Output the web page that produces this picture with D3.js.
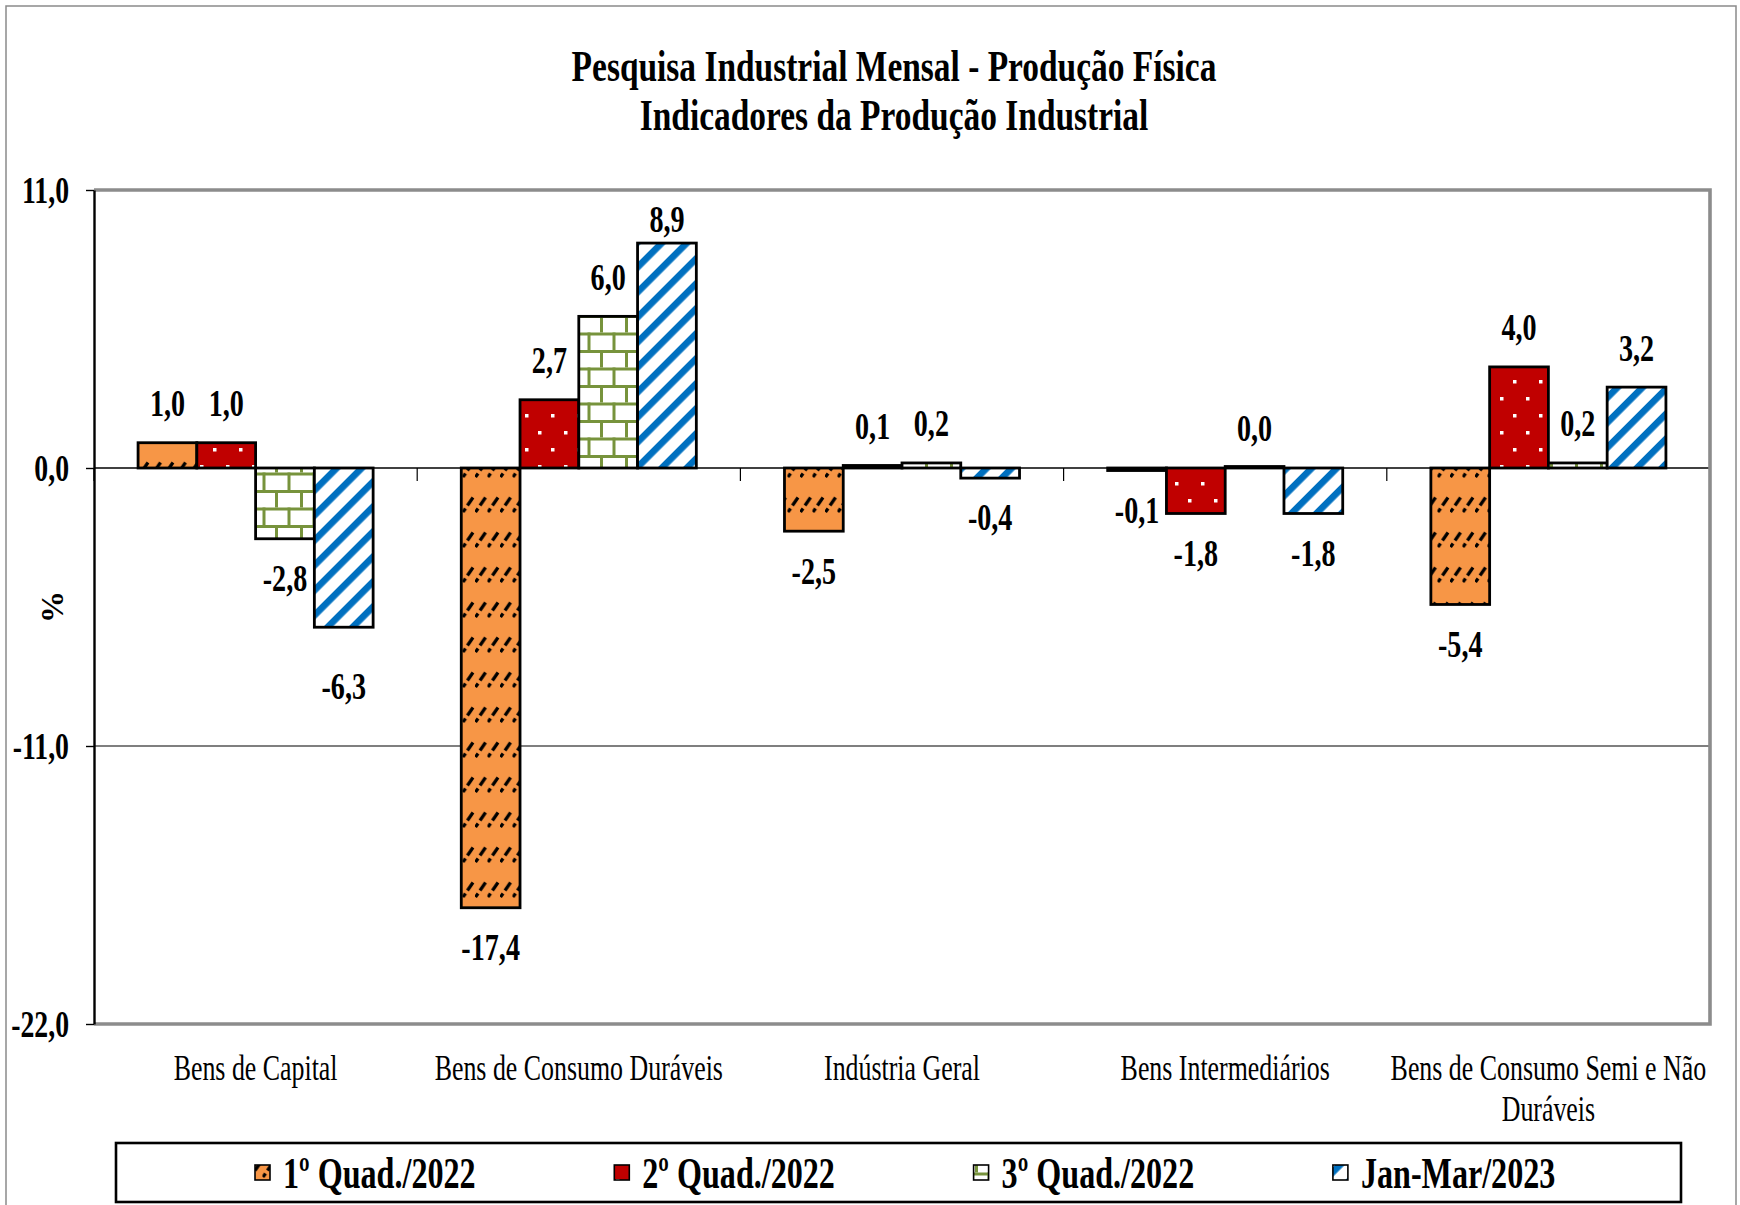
<!DOCTYPE html>
<html>
<head>
<meta charset="utf-8">
<script src="https://cdn.jsdelivr.net/npm/d3@7"></script>
<style>
  html, body { margin: 0; padding: 0; background: #ffffff; }
  svg { display: block; }
</style>
</head>
<body>
<svg id="chart" width="1740" height="1205"></svg>
<script>
// ---------------- DATA ----------------
const titleLines = ["Pesquisa Industrial Mensal - Produção Física", "Indicadores da Produção Industrial"];
const yAxisTitle = "%";
const categories = ["Bens de Capital", "Bens de Consumo Duráveis", "Indústria Geral", "Bens Intermediários", "Bens de Consumo Semi e Não Duráveis"];
const seriesNames = ["1º Quad./2022", "2º Quad./2022", "3º Quad./2022", "Jan-Mar/2023"];
const quad1_2022 = [1.0, -17.4, -2.5, -0.1, -5.4];
const quad2_2022 = [1.0, 2.7, 0.1, -1.8, 4.0];
const quad3_2022 = [-2.8, 6.0, 0.2, 0.0, 0.2];
const janMar2023 = [-6.3, 8.9, -0.4, -1.8, 3.2];
const yTicks = [11, 0, -11, -22];
const yDomain = [-22, 11];

// ---------------- LAYOUT / STYLE ----------------
const seriesValues = [quad1_2022, quad2_2022, quad3_2022, janMar2023];
const FONT = "'Liberation Serif','Times New Roman',serif";
const plot = { left: 94, right: 1710, top: 190, bottom: 1024 };
// manually moved data label in the original (extra distance, px)
const labelNudge = { "Jan-Mar/2023|Bens de Capital": 19 };

const locale = d3.formatLocale({ decimal: ",", thousands: ".", grouping: [3], currency: ["", ""], minus: "-" });
const fmt = locale.format(".1f");

const svg = d3.select("#chart");
const defs = svg.append("defs");

// patterns
const pat0 = defs.append("pattern").attr("id", "pat0").attr("patternUnits", "userSpaceOnUse")
  .attr("width", 12.5).attr("height", 35);
pat0.append("rect").attr("width", 12.5).attr("height", 35).attr("fill", "#F79646");
pat0.append("path").attr("d", "M0.5,22 L3,18.5 M5,15.5 L10.5,7.5").attr("stroke", "#000").attr("stroke-width", 3.2).attr("fill", "none");

const pat1 = defs.append("pattern").attr("id", "pat1").attr("patternUnits", "userSpaceOnUse")
  .attr("width", 26).attr("height", 34);
pat1.append("rect").attr("width", 26).attr("height", 34).attr("fill", "#C00000");
pat1.append("rect").attr("x", 5).attr("y", 6).attr("width", 3.5).attr("height", 3.5).attr("fill", "#fff");
pat1.append("rect").attr("x", 18).attr("y", 23).attr("width", 3.5).attr("height", 3.5).attr("fill", "#fff");

const pat2 = defs.append("pattern").attr("id", "pat2").attr("patternUnits", "userSpaceOnUse")
  .attr("width", 25).attr("height", 35);
pat2.append("rect").attr("width", 25).attr("height", 35).attr("fill", "#fff");
pat2.append("rect").attr("x", 0).attr("y", 0).attr("width", 25).attr("height", 3).attr("fill", "#77933C");
pat2.append("rect").attr("x", 0).attr("y", 17.5).attr("width", 25).attr("height", 3).attr("fill", "#77933C");
pat2.append("rect").attr("x", 0).attr("y", 0).attr("width", 3).attr("height", 17.5).attr("fill", "#77933C");
pat2.append("rect").attr("x", 12.5).attr("y", 17.5).attr("width", 3).attr("height", 17.5).attr("fill", "#77933C");

const pat3 = defs.append("pattern").attr("id", "pat3").attr("patternUnits", "userSpaceOnUse")
  .attr("width", 17.68).attr("height", 17.68).attr("patternTransform", "rotate(45)");
pat3.append("rect").attr("width", 17.68).attr("height", 17.68).attr("fill", "#fff");
pat3.append("rect").attr("x", 0).attr("width", 6.6).attr("height", 17.68).attr("fill", "#0070C0");

const patIds = ["url(#pat0)", "url(#pat1)", "url(#pat2)", "url(#pat3)"];

// outer chart frame
svg.append("rect").attr("x", 6).attr("y", 6).attr("width", 1730).attr("height", 1220)
  .attr("fill", "#fff").attr("stroke", "#8a8a8a").attr("stroke-width", 1.5);

// helper: condensed text
function ctext(parent, x, yv, str, opts) {
  const g = parent.append("g").attr("transform", `translate(${x},${yv})`);
  const t = g.append("text")
    .attr("transform", `scale(${opts.sx},1)`)
    .attr("text-anchor", opts.anchor || "middle")
    .attr("dominant-baseline", opts.baseline || "central")
    .attr("font-family", FONT)
    .attr("font-size", opts.size)
    .attr("font-weight", opts.weight || "normal")
    .attr("fill", "#000")
    .text(str);
  return t;
}

// title
titleLines.forEach((line, i) => {
  ctext(svg, 894, 81 + i * 49, line, { size: 44, sx: 0.76, weight: "bold", baseline: "alphabetic" });
});

// scales
const x0 = d3.scaleBand().domain(categories).range([plot.left, plot.right]).padding(0);
const x1 = d3.scaleBand().domain(seriesNames).range([0, x0.bandwidth()]).paddingInner(0).paddingOuter(0.75);
const y = d3.scaleLinear().domain(yDomain).range([plot.bottom, plot.top]);

// gridlines (inner ticks, thin black)
svg.append("g").selectAll("line").data(yTicks.filter(v => v !== yDomain[0] && v !== yDomain[1]))
  .join("line")
  .attr("x1", plot.left).attr("x2", plot.right)
  .attr("y1", d => y(d)).attr("y2", d => y(d))
  .attr("stroke", "#000").attr("stroke-width", d => d === 0 ? 1.6 : 1.2);

// category tick marks on zero line at band boundaries
const boundaries = categories.map(c => x0(c)).concat([x0.range()[1]]);
svg.append("g").selectAll("line").data(boundaries).join("line")
  .attr("x1", d => d).attr("x2", d => d)
  .attr("y1", y(0)).attr("y2", y(0) + 13)
  .attr("stroke", "#000").attr("stroke-width", 1.2);

// plot border (gray) top/right/bottom
svg.append("path")
  .attr("d", `M${plot.left},${y(yDomain[1])} H${plot.right} V${y(yDomain[0])} H${plot.left}`)
  .attr("fill", "none").attr("stroke", "#8c8c8c").attr("stroke-width", 3.6);

// bars
const rows = [];
categories.forEach((c, i) => {
  seriesNames.forEach((s, j) => rows.push({ c, s, j, v: seriesValues[j][i] }));
});

const barG = svg.append("g");
barG.selectAll("rect").data(rows).join("rect")
  .attr("x", d => x0(d.c) + x1(d.s))
  .attr("width", x1.bandwidth())
  .attr("y", d => d.v > 0 ? y(d.v) : (d.v === 0 ? y(0) - 1.5 : y(0)))
  .attr("height", d => d.v === 0 ? 1.5 : Math.abs(y(d.v) - y(0)))
  .attr("fill", d => patIds[d.j])
  .attr("stroke", "#000").attr("stroke-width", 2.8);

// data labels (outside end, kept inside the plot area)
const labG = svg.append("g");
rows.forEach(d => {
  const cx = x0(d.c) + x1(d.s) + x1.bandwidth() / 2;
  const nudge = labelNudge[d.s + "|" + d.c] || 0;
  let cy = d.v >= 0 ? y(d.v) - 39 : y(d.v) + 40 + nudge;
  cy = Math.max(cy, plot.top + 30);
  ctext(labG, cx, cy, fmt(d.v), { size: 37, sx: 0.76, weight: "bold" });
});

// y axis
const yAxis = d3.axisLeft(y).tickValues(yTicks).tickSize(8).tickSizeOuter(0).tickFormat(fmt);
const yG = svg.append("g").attr("transform", `translate(${plot.left},0)`).call(yAxis);
yG.select(".domain").attr("stroke", "#000").attr("stroke-width", 2.4);
yG.selectAll(".tick line").attr("stroke", "#000").attr("stroke-width", 1.4);
yG.selectAll(".tick text")
  .attr("x", 0).attr("dy", null)
  .attr("dominant-baseline", "central")
  .attr("text-anchor", "end")
  .attr("transform", "translate(-25,0) scale(0.75,1)")
  .attr("font-family", FONT).attr("font-size", 37).attr("font-weight", "bold").attr("fill", "#000");

// y axis title
svg.append("g").attr("transform", `translate(52,${(plot.top + plot.bottom) / 2}) rotate(-90)`)
  .append("text").attr("text-anchor", "middle").attr("dominant-baseline", "central")
  .attr("font-family", FONT).attr("font-size", 32).attr("font-weight", "bold").text(yAxisTitle);

// category labels with wrapping
const CAT_SIZE = 35, CAT_SX = 0.74;
const catG = svg.append("g");
categories.forEach(c => {
  const cx = x0(c) + x0.bandwidth() / 2;
  const words = c.split(" ");
  const lines = [];
  let cur = [];
  const probe = svg.append("text").attr("font-family", FONT).attr("font-size", CAT_SIZE);
  words.forEach(w => {
    const trial = cur.concat([w]).join(" ");
    probe.text(trial);
    if (probe.node().getComputedTextLength() * CAT_SX > x0.bandwidth() && cur.length) {
      lines.push(cur.join(" "));
      cur = [w];
    } else {
      cur.push(w);
    }
  });
  lines.push(cur.join(" "));
  probe.remove();
  lines.forEach((ln, k) => ctext(catG, cx, 1069 + k * 41, ln, { size: CAT_SIZE, sx: CAT_SX }));
});

// legend
const legG = svg.append("g");
legG.append("rect").attr("x", 116).attr("y", 1143).attr("width", 1565).attr("height", 59)
  .attr("fill", "#fff").attr("stroke", "#000").attr("stroke-width", 2.6);
const legScale = d3.scaleBand().domain(seriesNames).range([255, 255 + 4 * 359.3]);
seriesNames.forEach((s, j) => {
  const lx = legScale(s);
  legG.append("rect").attr("x", lx).attr("y", 1165).attr("width", 15).attr("height", 15)
    .attr("fill", patIds[j]).attr("stroke", "#000").attr("stroke-width", 1.6);
  ctext(legG, lx + 28, 1173, s, { size: 44, sx: 0.73, weight: "bold", anchor: "start" });
});
</script>
</body>
</html>
